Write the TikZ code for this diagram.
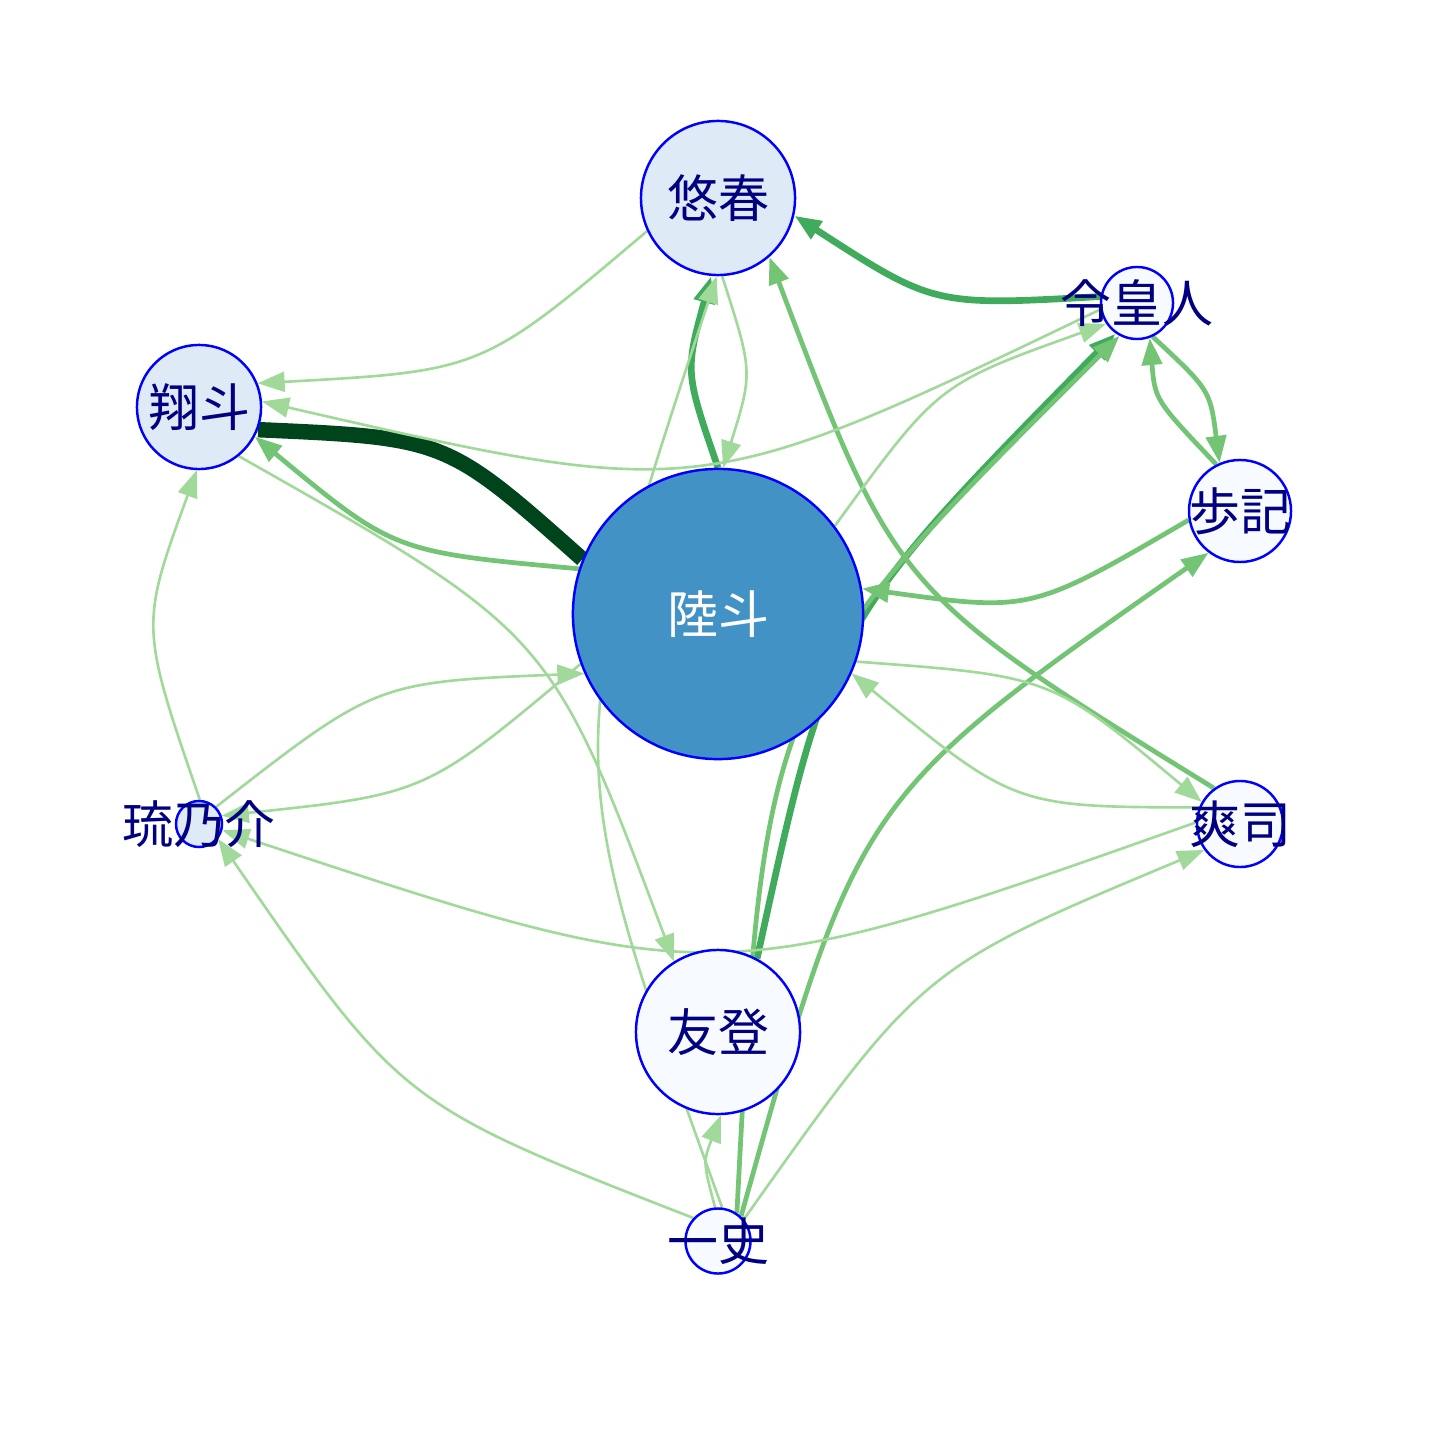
\documentclass[tikz,border=0pt]{standalone}
\usepackage{fontspec}
\newfontfamily\jpfont{Noto Sans CJK JP}
\usetikzlibrary{arrows.meta}
\definecolor{edgeA}{HTML}{A1D99B}
\definecolor{edgeB}{HTML}{74C476}
\definecolor{edgeC}{HTML}{41AB5D}
\definecolor{edgeD}{HTML}{00441B}
\definecolor{fillpale}{HTML}{F7FBFF}
\definecolor{filllight}{HTML}{DEEBF7}
\definecolor{fillmid}{HTML}{4292C6}
\definecolor{labelblue}{HTML}{000080}
\pgfdeclarelayer{edges}
\pgfsetlayers{edges,main}
\begin{document}
\begin{tikzpicture}[x=0.01cm, y=-0.01cm,
		vtx/.style={circle, draw=blue, line width=0.7pt, inner sep=0pt},
		lbl/.style={font=\jpfont\fontsize{14.5pt}{17pt}\selectfont, text=labelblue, inner sep=0pt},
		lightedge/.style={edgeA, line width=0.75pt},
		midedge/.style={edgeB, line width=1.35pt},
		darkedge/.style={edgeC, line width=1.9pt},
		heavyedge/.style={edgeD, line width=4.4pt},
		>={Triangle[length=2.7mm, width=2mm]}]
		\useasboundingbox (0,0) rectangle (1440,1440);
		\node[vtx, fill=fillmid, minimum size=2.9cm, label={[lbl, text=white]center:陸斗}] (rikuto) at (718,614) {};
		\node[vtx, fill=filllight, minimum size=1.54cm, label={[lbl]center:悠春}] (yuharu) at (718,198) {};
		\node[vtx, fill=filllight, minimum size=1.24cm, label={[lbl]center:翔斗}] (shoto) at (199,407) {};
		\node[vtx, fill=fillpale, minimum size=0.72cm, label={[lbl]center:令皇人}] (reoto) at (1137,303) {};
		\node[vtx, fill=fillpale, minimum size=1.02cm, label={[lbl]center:歩記}] (ayuki) at (1240,511) {};
		\node[vtx, fill=fillpale, minimum size=0.86cm, label={[lbl]center:爽司}] (soji) at (1240,824) {};
		\node[vtx, fill=fillpale, minimum size=1.64cm, label={[lbl]center:友登}] (yuto) at (718,1032) {};
		\node[vtx, fill=fillpale, minimum size=0.65cm, label={[lbl]center:一史}] (kazushi) at (718,1241) {};
		\node[vtx, fill=filllight, minimum size=0.46cm, label={[lbl]center:琉乃介}] (runosuke) at (199,824) {};
		\begin{pgfonlayer}{edges}
		\draw[heavyedge] (rikuto.158) .. controls (446,438) .. (shoto.-21);
		\draw[darkedge,->] (rikuto.90) .. controls (685,372) .. (yuharu.-95);
		\draw[darkedge,->] (reoto.170) .. controls (934,306) .. (yuharu.-13);
		\draw[darkedge,->] (yuto.62) .. controls (830,624) .. (reoto.-125);
		\draw[midedge,->] (rikuto.162) .. controls (394,552) .. (shoto.-28);
		\draw[midedge,->] (soji.126) .. controls (896,592) .. (yuharu.-49);
		\draw[midedge,->] (kazushi.56) .. controls (764,690) .. (reoto.-118);
		\draw[midedge,->] (reoto.-65) .. controls (1210,390) .. (ayuki.113);
		\draw[midedge,->] (ayuki.117) .. controls (1155,400) .. (reoto.-70);
		\draw[midedge,->] (ayuki.190) .. controls (1031,612) .. (rikuto.10);
		\draw[midedge,->] (kazushi.47) .. controls (858,798) .. (ayuki.-127);
		\draw[lightedge,->] (yuharu.205) .. controls (482,371) .. (shoto.22);
		\draw[lightedge,->] (reoto.190) .. controls (700,502) .. (shoto.5);
		\draw[lightedge,->] (shoto.-51) .. controls (551,633) .. (yuto.122);
		\draw[lightedge,->] (runosuke.88) .. controls (140,626) .. (shoto.-92);
		\draw[lightedge,->] (yuharu.-87) .. controls (753,372) .. (rikuto.88);
		\draw[lightedge,->] (kazushi.83) .. controls (559,755) .. (yuharu.-91);
		\draw[lightedge,->] (rikuto.37) .. controls (938,384) .. (reoto.-146);
		\draw[lightedge,->] (soji.158) .. controls (1015,807) .. (rikuto.-24);
		\draw[lightedge,->] (rikuto.-19) .. controls (1051,676) .. (soji.150);
		\draw[lightedge,->] (soji.178) .. controls (714,993) .. (runosuke.-15);
		\draw[lightedge,->] (kazushi.40) .. controls (922,968) .. (soji.-144);
		\draw[lightedge,->] (rikuto.-160) .. controls (426,794) .. (runosuke.20);
		\draw[lightedge,->] (runosuke.45) .. controls (376,682) .. (rikuto.-156);
		\draw[lightedge,->] (kazushi.137) .. controls (401,1104) .. (runosuke.-38);
		\draw[lightedge,->] (kazushi.95) .. controls (703,1162) .. (yuto.-88);
		\end{pgfonlayer}
	\end{tikzpicture}
\end{document}
